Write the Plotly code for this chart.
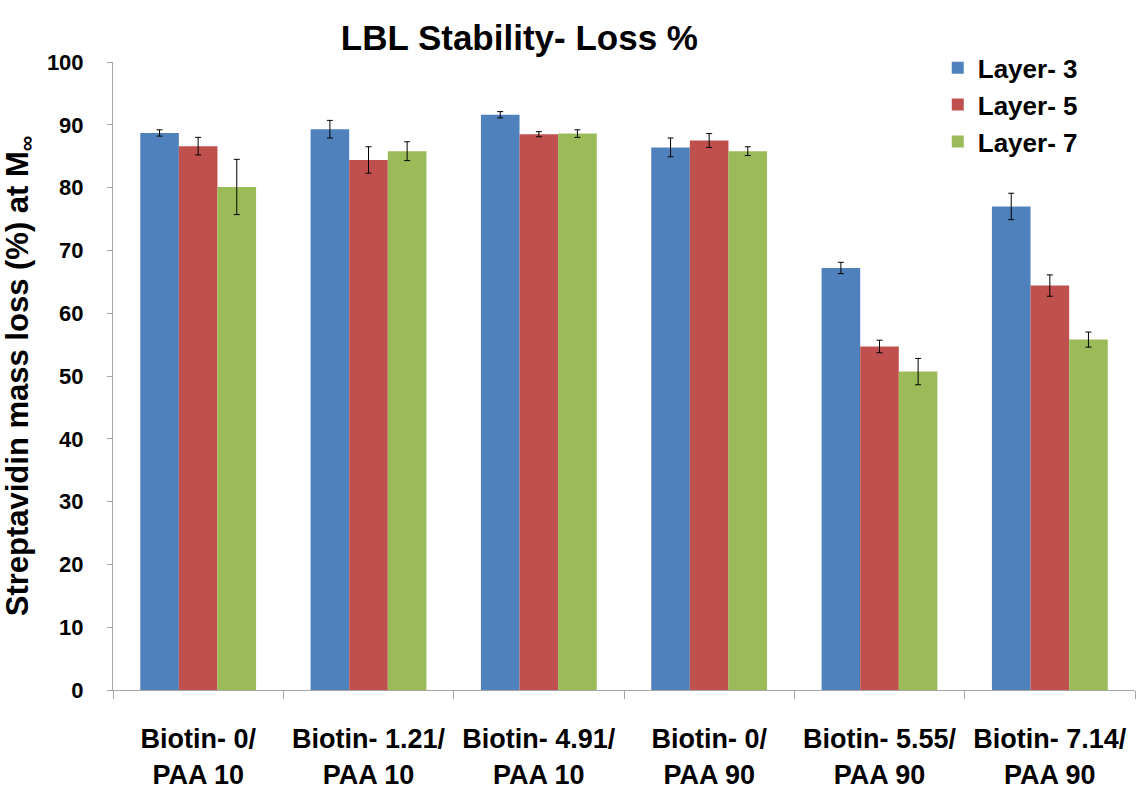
import plotly.graph_objects as go

categories = ["Biotin- 0/<br>PAA 10", "Biotin- 1.21/<br>PAA 10", "Biotin- 4.91/<br>PAA 10",
              "Biotin- 0/<br>PAA 90", "Biotin- 5.55/<br>PAA 90", "Biotin- 7.14/<br>PAA 90"]
layer3 = [88.7, 89.3, 91.6, 86.4, 67.2, 77.0]
layer3_err = [0.5, 1.4, 0.5, 1.5, 0.9, 2.1]
layer5 = [86.6, 84.4, 88.5, 87.5, 54.7, 64.4]
layer5_err = [1.4, 2.1, 0.4, 1.1, 1.0, 1.7]
layer7 = [80.1, 85.8, 88.6, 85.8, 50.7, 55.8]
layer7_err = [4.4, 1.5, 0.6, 0.7, 2.1, 1.2]
series_names = ["Layer- 3", "Layer- 5", "Layer- 7"]
colors = ["#4F81BD", "#C0504D", "#9BBB59"]

font = "Liberation Sans, Arial, sans-serif"
fig = go.Figure()
for name, vals, errs, col in zip(series_names, [layer3, layer5, layer7],
                                 [layer3_err, layer5_err, layer7_err], colors):
    fig.add_trace(go.Bar(
        x=categories, y=vals, name="<b>" + name + "</b>",
        marker=dict(color=col, line=dict(width=0)),
        error_y=dict(type="data", array=errs, visible=True, color="black", thickness=1, width=3),
    ))

fig.update_layout(
    width=1144, height=791,
    margin=dict(l=113, r=9, t=62, b=101),
    paper_bgcolor="white", plot_bgcolor="white",
    barmode="group", bargap=0.32, bargroupgap=0,
    font=dict(family=font, color="black"),
    title=dict(text="<b>LBL Stability- Loss %</b>", x=0.454, xanchor="center",
               y=0.952, yanchor="middle", font=dict(size=35, family=font, color="black")),
    legend=dict(x=0.807, y=1.028, xanchor="left", yanchor="top", bgcolor="rgba(0,0,0,0)",
                font=dict(size=26, family=font, color="black"), itemwidth=30,
                tracegroupgap=0, traceorder="normal"),
    xaxis=dict(showline=True, linecolor="#A6A6A6", linewidth=1, ticks="outside",
               tickson="boundaries", ticklen=8, tickcolor="#A6A6A6", automargin=False,
               tickfont=dict(size=27, family=font, color="black"), ticklabelstandoff=25,
               showgrid=False),
    yaxis=dict(range=[0, 100], dtick=10, showline=True, linecolor="#A6A6A6", linewidth=1,
               ticks="outside", ticklen=5, tickcolor="#A6A6A6", showgrid=False, zeroline=False,
               automargin=False,
               tickfont=dict(size=22, family=font, color="black"), ticklabelstandoff=19,
               tickprefix="<b>", ticksuffix="</b>",
               title=dict(text="<b>Streptavidin mass loss (%) at M<sub>∞</sub></b>",
                          font=dict(size=31, family=font, color="black"), standoff=10)),
)
fig.update_xaxes(ticktext=["<b>" + c.replace("<br>", "</b><br><b>") + "</b>" for c in categories],
                 tickvals=categories)
fig.write_html("out.html", config={"displayModeBar": False},
               post_script="document.body.style.margin='0px';")
